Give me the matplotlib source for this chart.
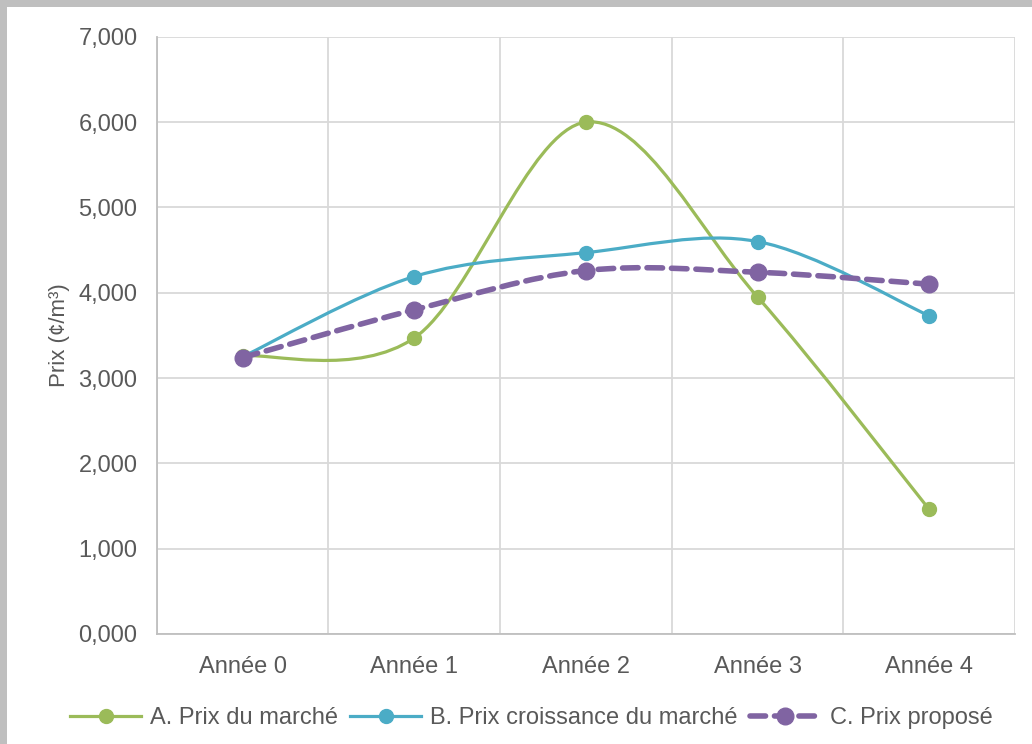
import matplotlib.pyplot as plt
from matplotlib.path import Path
from matplotlib.patches import PathPatch, Rectangle
from matplotlib.lines import Line2D
from matplotlib.ticker import FuncFormatter

plt.rcParams['font.family'] = ['Liberation Sans', 'DejaVu Sans']

categories = ["Année 0", "Année 1", "Année 2", "Année 3", "Année 4"]
prix_marche = [3260, 3470, 6000, 3950, 1460]
prix_croissance = [3250, 4190, 4470, 4600, 3730]
prix_propose = [3240, 3800, 4260, 4240, 4100]

series_names = ["A. Prix du marché", "B. Prix croissance du marché", "C. Prix proposé"]
colors = ["#9BBB59", "#4BACC6", "#8064A2"]
text_color = "#595959"


def smooth_path(xs, ys):
    # Excel-style smoothed line as cubic bezier segments
    pts = list(zip(xs, ys))
    n = len(pts)
    verts = [pts[0]]
    codes = [Path.MOVETO]
    for i in range(n - 1):
        p0 = pts[max(i - 1, 0)]
        p1 = pts[i]
        p2 = pts[i + 1]
        p3 = pts[min(i + 2, n - 1)]
        c1 = (p1[0] + (p2[0] - p0[0]) / 6, p1[1] + (p2[1] - p0[1]) / 6)
        c2 = (p2[0] - (p3[0] - p1[0]) / 6, p2[1] - (p3[1] - p1[1]) / 6)
        verts += [c1, c2, p2]
        codes += [Path.CURVE4] * 3
    return Path(verts, codes)


fig = plt.figure(figsize=(10.32, 7.44), dpi=100, facecolor="#BFBFBF")
fig.patches.append(Rectangle((7 / 1032, 0), 1, 1 - 7 / 744, transform=fig.transFigure,
                             facecolor="white", edgecolor="none", zorder=-5))
ax = fig.add_axes([0.152, 0.148, 0.8315, 0.8025])
ax.set_facecolor("white")

x = list(range(len(categories)))
values = [prix_marche, prix_croissance, prix_propose]
handles = []
for i, (vals, name, col) in enumerate(zip(values, series_names, colors)):
    if i == 2:
        lw, ms, ls = 4.0, 12, (0, (2.8, 1.6))
    else:
        lw, ms, ls = 2.3, 10, "-"
    patch = PathPatch(smooth_path(x, vals), fill=False, edgecolor=col, linewidth=lw,
                      linestyle=ls, capstyle="round", zorder=3 + i)
    ax.add_patch(patch)
    ax.plot(x, vals, "o", color=col, markersize=ms, zorder=3 + i)
    h = Line2D([0], [0], color=col, linewidth=lw, marker="o", markersize=ms,
               linestyle=ls, dash_capstyle="round")
    handles.append(h)

ax.set_xlim(-0.5, 4.5)
ax.set_ylim(0, 7000)
ax.set_yticks(range(0, 7001, 1000))
ax.yaxis.set_major_formatter(FuncFormatter(lambda v, p: f"{v / 1000:.3f}".replace(".", ",")))
ax.set_xticks(x)
ax.set_xticklabels(categories)
ax.set_xticks([i + 0.5 for i in range(-1, 5)], minor=True)
ax.grid(True, axis="y", color="#D9D9D9", linewidth=1.3)
ax.grid(True, axis="x", which="minor", color="#D9D9D9", linewidth=1.3)
ax.tick_params(axis="both", which="both", length=0, labelsize=17, colors=text_color, pad=14)
ax.tick_params(axis="x", pad=16)
ax.set_axisbelow(True)
for s in ["top", "right"]:
    ax.spines[s].set_visible(False)
for s in ["left", "bottom"]:
    ax.spines[s].set_color("#BFBFBF")
    ax.spines[s].set_linewidth(1.3)
ax.set_ylabel("Prix (¢/m³)", fontsize=16, color=text_color, labelpad=6)

fig.legend(handles, series_names, loc="center", bbox_to_anchor=(0.515, 0.035), ncol=3,
           frameon=False, fontsize=17, handlelength=3.0, columnspacing=0.5,
           handletextpad=0.4, labelcolor=text_color)

fig.savefig("out.png", dpi=100, facecolor=fig.get_facecolor())
